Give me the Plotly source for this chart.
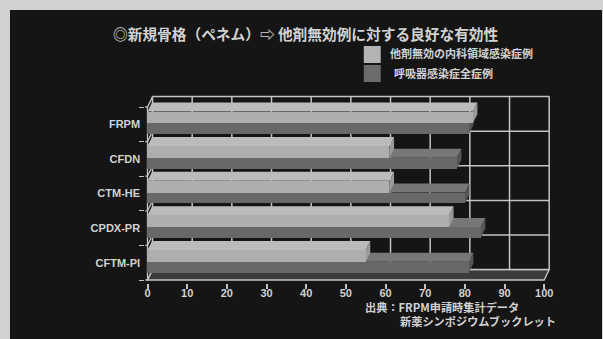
import plotly.graph_objects as go

# ---- data -------------------------------------------------------------
categories = ["CFTM-PI", "CPDX-PR", "CTM-HE", "CFDN", "FRPM"]          # bottom -> top
other_failed = [55, 76, 61, 61, 82]      # 他剤無効の内科領域感染症例 (%)
respiratory_all = [81, 84, 80, 78, 81]   # 呼吸器感染症全症例 (%)
x_ticks = [0, 10, 20, 30, 40, 50, 60, 70, 80, 90, 100]

title_text = "◎新規骨格（ペネム）⇨ 他剤無効例に対する良好な有効性"
legend_names = ["他剤無効の内科領域感染症例", "呼吸器感染症全症例"]
source_lines = ["出典：FRPM申請時集計データ", "新薬シンポジウムブックレット"]

# ---- styling -----------------------------------------------------------
W, H = 603, 339
BG_OUT = "#d2d2d2"
SLIDE = "#151515"
GRID = "#c4c4c4"
TXT = "#d2d2d2"
FLOOR = "#3b3b3b"
LIGHT_FRONT, LIGHT_TOP, LIGHT_CAP = "#aeaeae", "#bbbbbb", "#9a9a9a"
DARK_FRONT, DARK_TOP, DARK_CAP = "#686868", "#777777", "#555555"
JP = "Noto Sans CJK JP"
LAT = "Liberation Sans, Arial, sans-serif"

# pixel geometry of the plotting box (front plane)
x0_px, x100_px = 147.0, 545.0
kx = (x100_px - x0_px) / 100.0
y0_px, ky = 280.0, 34.6
xr = [-0.6, 102.0]
yr = [-0.1, 5.35]
xdom = [(x0_px + xr[0] * kx) / W, (x0_px + xr[1] * kx) / W]
ydom = [1 - (y0_px - yr[0] * ky) / H, 1 - (y0_px - yr[1] * ky) / H]

# depth of the 3D box (data units)
wdx, wdy = 1.26, 0.30     # walls / floor
bdx, bdy = 1.15, 0.26     # bars
n = len(categories)

# bar bands inside each category slot
dark_lo, dark_hi = 0.22, 0.53
light_lo, light_hi = 0.53, 0.87


def poly(pts):
    return "M " + " L ".join(f"{x},{y}" for x, y in pts) + " Z"


shapes = []
# slide background
shapes.append(dict(type="rect", xref="paper", yref="paper", x0=9 / W, x1=1, y0=0, y1=1 - 10 / H,
                   fillcolor=SLIDE, line=dict(width=0), layer="below"))
# floor
shapes.append(dict(type="path", xref="x", yref="y", layer="below",
                   path=poly([(0, 0), (100, 0), (100 + wdx, wdy), (wdx, wdy)]),
                   fillcolor=FLOOR, line=dict(color=GRID, width=1.3)))
# back wall grid
for v in x_ticks:
    shapes.append(dict(type="line", xref="x", yref="y", layer="below",
                       x0=v + wdx, x1=v + wdx, y0=wdy, y1=n + wdy,
                       line=dict(color=GRID, width=1.5)))
for k in range(n + 1):
    shapes.append(dict(type="line", xref="x", yref="y", layer="below",
                       x0=wdx, x1=100 + wdx, y0=k + wdy, y1=k + wdy,
                       line=dict(color=GRID, width=1.5)))
    # left wall edge at each slot boundary
    shapes.append(dict(type="path", xref="x", yref="y", layer="below",
                       path=f"M {xr[0]},{k} L 0,{k} L {wdx},{k + wdy}",
                       line=dict(color=GRID, width=1.3)))
shapes.append(dict(type="line", xref="x", yref="y", layer="below",
                   x0=0, x1=0, y0=0, y1=n, line=dict(color=GRID, width=1.3)))

# top faces and end caps of the bars (front faces are bar traces)
for i, vd in enumerate(respiratory_all):
    shapes.append(dict(type="path", xref="x", yref="y", layer="below", line=dict(width=0),
                       fillcolor=DARK_TOP,
                       path=poly([(0, i + dark_hi), (vd, i + dark_hi),
                                  (vd + bdx, i + dark_hi + bdy), (bdx, i + dark_hi + bdy)])))
    shapes.append(dict(type="path", xref="x", yref="y", layer="below", line=dict(width=0),
                       fillcolor=DARK_CAP,
                       path=poly([(vd, i + dark_lo), (vd, i + dark_hi),
                                  (vd + bdx, i + dark_hi + bdy), (vd + bdx, i + dark_lo + bdy)])))
for i, vl in enumerate(other_failed):
    shapes.append(dict(type="path", xref="x", yref="y", layer="below", line=dict(width=0),
                       fillcolor=LIGHT_TOP,
                       path=poly([(0, i + light_hi), (vl, i + light_hi),
                                  (vl + bdx, i + light_hi + bdy), (bdx, i + light_hi + bdy)])))
    shapes.append(dict(type="path", xref="x", yref="y", layer="below", line=dict(width=0),
                       fillcolor=LIGHT_CAP,
                       path=poly([(vl, i + light_lo), (vl, i + light_hi),
                                  (vl + bdx, i + light_hi + bdy), (vl + bdx, i + light_lo + bdy)])))

# legend swatches
shapes.append(dict(type="rect", xref="paper", yref="paper", x0=364 / W, x1=381 / W,
                   y0=1 - 63 / H, y1=1 - 46 / H, fillcolor="#b4b4b4", line=dict(width=0)))
shapes.append(dict(type="rect", xref="paper", yref="paper", x0=364 / W, x1=381 / W,
                   y0=1 - 82 / H, y1=1 - 65 / H, fillcolor="#6c6c6c", line=dict(width=0)))

fig = go.Figure()
fig.add_trace(go.Bar(
    name=legend_names[0], orientation="h",
    x=other_failed, y=[i + (light_lo + light_hi) / 2 for i in range(n)],
    width=light_hi - light_lo, base=0,
    marker=dict(color=LIGHT_FRONT, line=dict(width=0)), showlegend=False))
fig.add_trace(go.Bar(
    name=legend_names[1], orientation="h",
    x=respiratory_all, y=[i + (dark_lo + dark_hi) / 2 for i in range(n)],
    width=dark_hi - dark_lo, base=0,
    marker=dict(color=DARK_FRONT, line=dict(width=0)), showlegend=False))

annotations = [
    dict(text=title_text, xref="paper", yref="paper", x=110 / W, y=1 - 33 / H,
         xanchor="left", yanchor="middle", showarrow=False,
         font=dict(family=JP, size=14.7, color=TXT, weight=700)),
    dict(text=legend_names[0], xref="paper", yref="paper", x=388 / W, y=1 - 53 / H,
         xanchor="left", yanchor="middle", showarrow=False,
         font=dict(family=JP, size=11, color=TXT, weight=700)),
    dict(text=legend_names[1], xref="paper", yref="paper", x=392 / W, y=1 - 73 / H,
         xanchor="left", yanchor="middle", showarrow=False,
         font=dict(family=JP, size=11, color=TXT, weight=700)),
    dict(text=source_lines[0], xref="paper", yref="paper", x=363 / W, y=1 - 306.5 / H,
         xanchor="left", yanchor="middle", showarrow=False,
         font=dict(family=JP, size=11.2, color=TXT, weight=700)),
    dict(text=source_lines[1], xref="paper", yref="paper", x=398 / W, y=1 - 321 / H,
         xanchor="left", yanchor="middle", showarrow=False,
         font=dict(family=JP, size=11.2, color=TXT, weight=700)),
]

fig.update_layout(
    width=W, height=H, autosize=False,
    margin=dict(l=0, r=0, t=0, b=0, pad=0),
    paper_bgcolor=BG_OUT, plot_bgcolor="rgba(0,0,0,0)",
    barmode="overlay", bargap=0,
    shapes=shapes, annotations=annotations,
    xaxis=dict(range=xr, domain=xdom, tickmode="array", tickvals=x_ticks,
               ticktext=[str(v) for v in x_ticks],
               ticks="outside", ticklen=5, tickwidth=1.5, tickcolor=GRID,
               ticklabelstandoff=-6,
               showgrid=False, zeroline=False, showline=False, fixedrange=True,
               tickfont=dict(family=LAT, size=11, color=TXT, weight=700)),
    yaxis=dict(range=yr, domain=ydom, tickmode="array",
               tickvals=[i + 0.5 for i in range(n)], ticktext=categories,
               ticks="", showgrid=False, zeroline=False, showline=False, fixedrange=True,
               ticklabelstandoff=4,
               minor=dict(tickvals=list(range(n + 1)), ticks="outside", ticklen=5,
                          tickwidth=1.3, tickcolor=GRID),
               tickfont=dict(family=LAT, size=11, color=TXT, weight=700)),
)

fig.write_html("out.html")
